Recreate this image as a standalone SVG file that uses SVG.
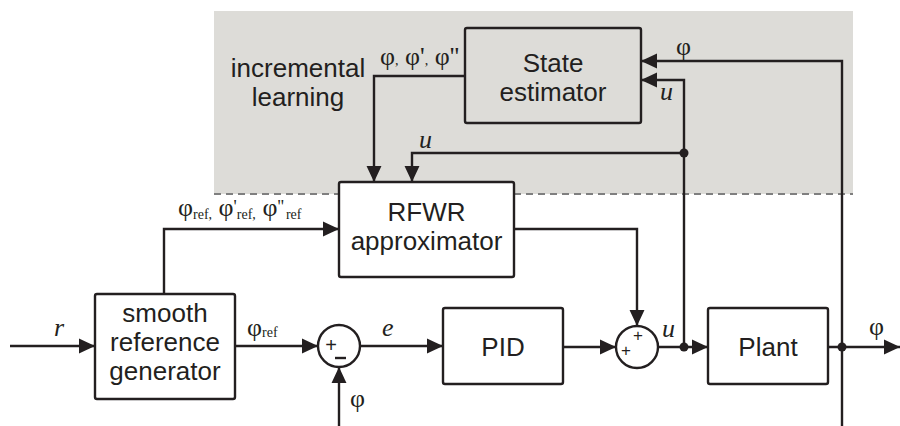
<svg xmlns="http://www.w3.org/2000/svg" width="900" height="426" viewBox="0 0 900 426">
  <style>
    .box { fill: #ffffff; stroke: #231f20; stroke-width: 2.4; }
    .est { fill: #dddcd8; stroke: #231f20; stroke-width: 2.4; }
    .wire { fill: none; stroke: #231f20; stroke-width: 2.4; }
    .lbl { font-family: "Liberation Sans", Arial, sans-serif; font-size: 26px; fill: #231f20; text-anchor: middle; }
    .sym { font-family: "Liberation Serif", "Times New Roman", serif; font-size: 26px; fill: #231f20; }
    .it { font-style: italic; }
    .sub { font-size: 14px; }
    .prime { font-size: 18px; }
    .sign { font-family: "Liberation Sans", Arial, sans-serif; fill: #231f20; text-anchor: middle; }
    .dot { fill: #231f20; }
  </style>
  <defs>
    <marker id="arrow" markerUnits="userSpaceOnUse" markerWidth="16" markerHeight="16" viewBox="0 0 15 14" refX="15" refY="7" orient="auto">
      <path d="M0,0 L15,7 L0,14 z" fill="#231f20"/>
    </marker>
  </defs>

  <!-- learning region background -->
  <rect x="214" y="11" width="639" height="183" fill="#dddcd8"/>
  <line x1="214" y1="194" x2="853" y2="194" stroke="#7f7f7f" stroke-width="2" stroke-dasharray="7,5"/>

  <text class="lbl" x="298" y="77">incremental</text>
  <text class="lbl" x="298" y="106">learning</text>

  <!-- connectors -->
  <g id="connectors">
    <path class="wire" d="M10,346 H95" marker-end="url(#arrow)"/>
    <path class="wire" d="M235,346 H318" marker-end="url(#arrow)"/>
    <path class="wire" d="M360,346 H443" marker-end="url(#arrow)"/>
    <path class="wire" d="M563,347 H616" marker-end="url(#arrow)"/>
    <path class="wire" d="M658,347 H708" marker-end="url(#arrow)"/>
    <path class="wire" d="M828,347 H900" marker-end="url(#arrow)"/>
    <path class="wire" d="M339,426 V367" marker-end="url(#arrow)"/>
    <path class="wire" d="M164,294 V229 H339" marker-end="url(#arrow)"/>
    <path class="wire" d="M514,229 H637 V326" marker-end="url(#arrow)"/>
    <path class="wire" d="M465,76 H374 V182" marker-end="url(#arrow)"/>
    <path class="wire" d="M684,347 V80 H641" marker-end="url(#arrow)"/>
    <path class="wire" d="M684,153 H412 V182" marker-end="url(#arrow)"/>
    <path class="wire" d="M842,426 V61 H641" marker-end="url(#arrow)"/>
    <circle class="dot" cx="684" cy="347" r="4.5"/>
    <circle class="dot" cx="842" cy="347" r="4.5"/>
    <circle class="dot" cx="684" cy="153" r="4.5"/>
  </g>

  <!-- signal labels -->
  <g id="signal-labels">
    <text class="sym it" x="54" y="336">r</text>
    <text class="sym" x="247" y="336">φ<tspan class="sub" dy="1">ref</tspan></text>
    <text class="sym it" x="382" y="336">e</text>
    <text class="sym" x="350" y="407">φ</text>
    <text class="sym it" x="662" y="337">u</text>
    <text class="sym" x="869" y="335">φ</text>
    <text class="sym" x="178" y="216">φ<tspan class="sub" dy="3">ref,</tspan><tspan dy="-3"> φ</tspan><tspan class="prime" dy="-3">'</tspan><tspan class="sub" dy="6">ref,</tspan><tspan dy="-3"> φ</tspan><tspan class="prime" dy="-3">''</tspan><tspan class="sub" dx="2" dy="6">ref</tspan></text>
    <text class="sym" x="380" y="65">φ<tspan class="sub">,</tspan> φ'<tspan class="sub">,</tspan> φ''</text>
    <text class="sym it" x="419" y="148">u</text>
    <text class="sym" x="676" y="55">φ</text>
    <text class="sym it" x="660" y="100">u</text>
  </g>

  <g id="state-estimator">
    <rect class="est" x="465" y="28" width="176" height="95" rx="2"/>
    <text class="lbl" x="553" y="72">State</text>
    <text class="lbl" x="553" y="101">estimator</text>
  </g>

  <g id="rfwr">
    <rect class="box" x="339" y="182" width="175" height="95" rx="2"/>
    <text class="lbl" x="426.5" y="221">RFWR</text>
    <text class="lbl" x="426.5" y="250">approximator</text>
  </g>

  <g id="smooth-ref">
    <rect class="box" x="95" y="294" width="140" height="105" rx="2"/>
    <text class="lbl" x="165" y="322">smooth</text>
    <text class="lbl" x="165" y="351">reference</text>
    <text class="lbl" x="165" y="380">generator</text>
  </g>

  <g id="sum-error">
    <circle class="box" cx="339" cy="346" r="21"/>
    <text class="sign" x="331" y="352" font-size="20">+</text>
    <line x1="335" y1="358" x2="346" y2="358" stroke="#231f20" stroke-width="2.4"/>
  </g>

  <g id="pid">
    <rect class="box" x="443" y="308" width="120" height="76" rx="2"/>
    <text class="lbl" x="503" y="356">PID</text>
  </g>

  <g id="sum-control">
    <circle class="box" cx="637" cy="347" r="21"/>
    <text class="sign" x="638" y="341" font-size="17">+</text>
    <text class="sign" x="626" y="356" font-size="17">+</text>
  </g>

  <g id="plant">
    <rect class="box" x="708" y="308" width="120" height="76" rx="2"/>
    <text class="lbl" x="768" y="356">Plant</text>
  </g>
</svg>
